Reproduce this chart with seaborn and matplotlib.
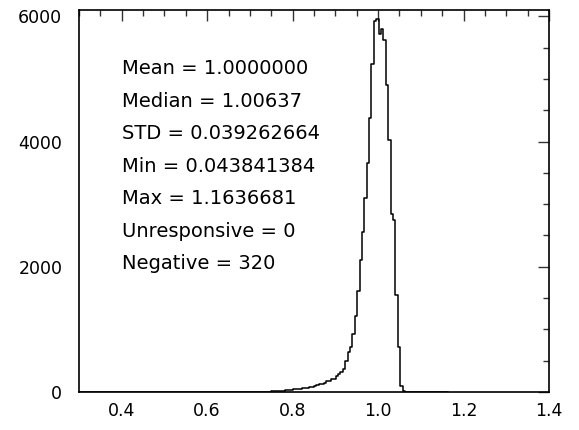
import numpy as np
import pandas as pd
import seaborn as sns
import matplotlib.pyplot as plt
from matplotlib.ticker import MultipleLocator

# histogram: 200 bins between min and max of the data
data_min = 0.043841384
data_max = 1.1636681
n_bins = 200
first_bin = 123  # bins before this one are empty at this scale

# counts, bins 123 .. 182
counts_read = [4, 5, 6, 8, 10, 12, 15, 18, 22, 28,
               32, 36, 40, 45, 48, 55, 58, 62, 70, 78,
               80, 96, 112, 120, 128, 145, 170, 176, 200, 210,
               256, 290, 320, 370, 500, 640, 720, 930, 1220, 1620,
               2100, 2560, 3100, 3650, 4370, 5230, 5920, 5960, 5710, 5800,
               5620, 4900, 4020, 2850, 2750, 1550, 720, 100, 20, 5]

stats_labels = ["Mean = 1.0000000", "Median = 1.00637", "STD = 0.039262664",
                "Min = 0.043841384", "Max = 1.1636681", "Unresponsive = 0",
                "Negative = 320"]

edges = np.linspace(data_min, data_max, n_bins + 1)
centers = (edges[:-1] + edges[1:]) / 2
counts = np.zeros(n_bins)
counts[first_bin:first_bin + len(counts_read)] = counts_read
df = pd.DataFrame({"value": centers, "count": counts})

sns.set_style("white")
plt.rcParams['font.family'] = ['DejaVu Sans']
plt.rcParams['text.color'] = 'black'
plt.rcParams['xtick.labelcolor'] = 'black'
plt.rcParams['ytick.labelcolor'] = 'black'

fig = plt.figure(figsize=(5.79, 4.30), dpi=100)
ax = fig.add_axes([79 / 579, 1 - 392 / 430, 470 / 579, 382 / 430])

sns.histplot(data=df, x="value", weights="count", bins=n_bins,
             binrange=(data_min, data_max),
             element="step", fill=False, color="black", linewidth=1.1, ax=ax)

ax.set_xlim(0.3, 1.4)
ax.set_ylim(0, 6100)
ax.set_xlabel("")
ax.set_ylabel("")
ax.xaxis.set_major_locator(MultipleLocator(0.2))
ax.xaxis.set_minor_locator(MultipleLocator(0.05))
ax.yaxis.set_major_locator(MultipleLocator(2000))
ax.yaxis.set_minor_locator(MultipleLocator(500))
ax.xaxis.set_major_formatter(plt.FuncFormatter(lambda v, p: f"{v:.1f}"))
ax.tick_params(which="both", direction="in", top=True, right=True,
               color="#333333", width=1, labelsize=12.5)
ax.tick_params(which="major", length=8)
ax.tick_params(which="minor", length=4)
ax.tick_params(axis="x", which="major", pad=7)
ax.tick_params(axis="y", which="major", pad=12)
for s in ax.spines.values():
    s.set_color("black")
    s.set_linewidth(1.2)

for i, t in enumerate(stats_labels):
    ax.text(0.0915, 0.846 - i * 0.085, t, transform=ax.transAxes,
            fontsize=14, va="center", ha="left", color="black")

fig.savefig("out.png", dpi=100)
